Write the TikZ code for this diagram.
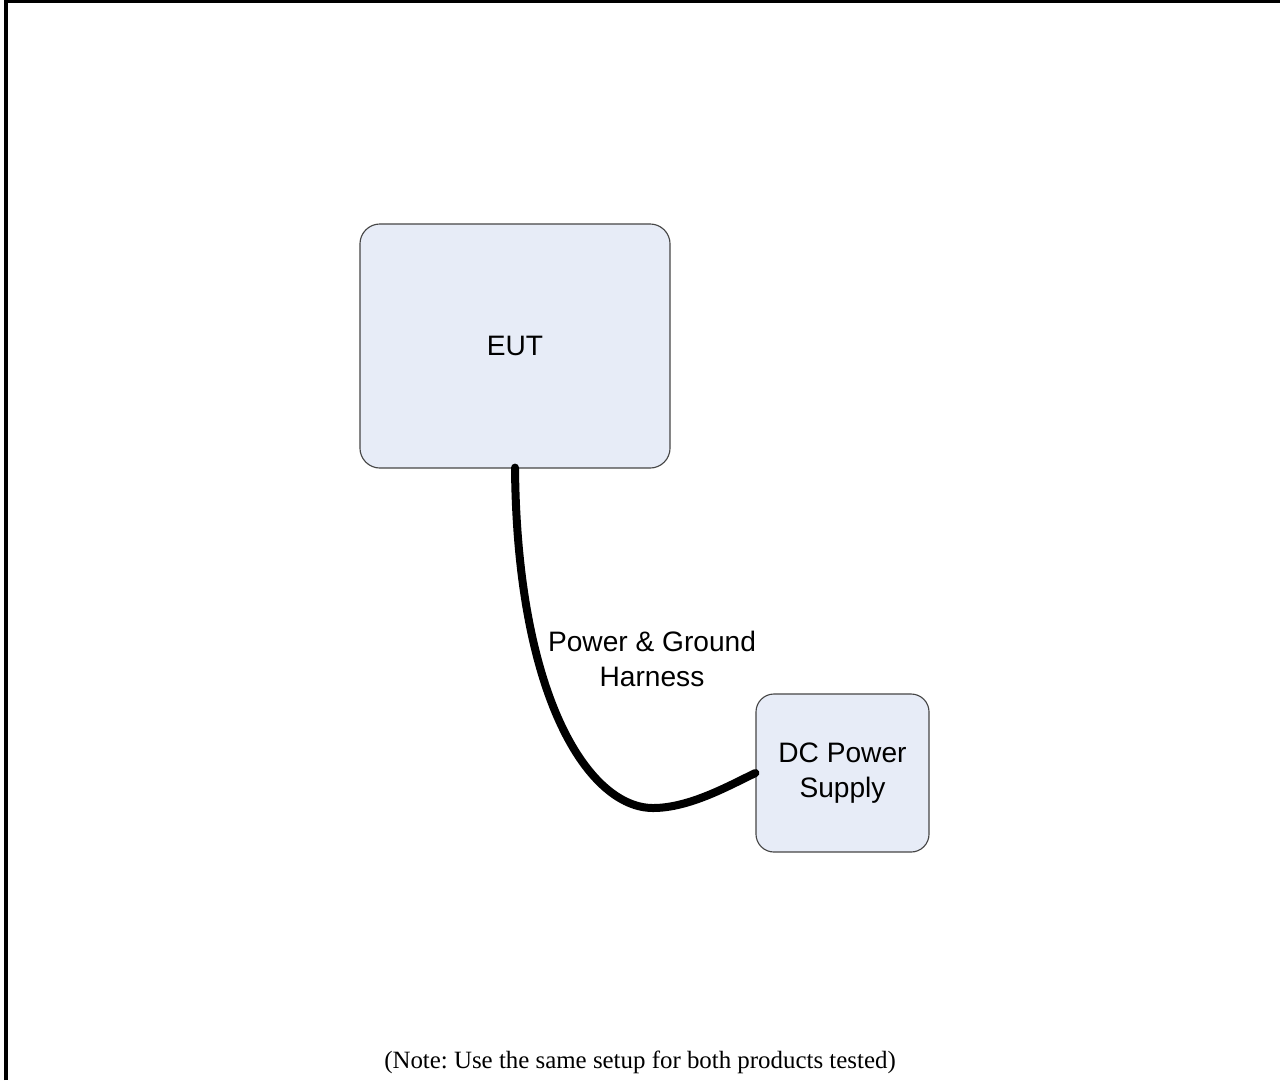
\documentclass[tikz,border=0pt]{standalone}
\usepackage{fontspec}
\setmainfont{Liberation Serif}
\newfontfamily\arialfont{Liberation Sans}
\usepackage{xcolor}
\usepackage{tikz}
\usetikzlibrary{shapes.geometric, arrows, positioning}
\definecolor{boxfill}{RGB}{231,236,247}
\definecolor{boxline}{RGB}{70,70,70}
\tikzstyle{unit} = [rectangle, rounded corners=0.5cm, text centered, align=center, draw=boxline, line width=0.8pt, fill=boxfill, font=\arialfont\fontsize{20}{25}\selectfont]
\tikzstyle{harness} = [line width=0.2cm, line cap=round, draw=black]
\tikzstyle{label} = [align=center, inner sep=0pt, font=\arialfont\fontsize{20}{24.5}\selectfont]
\frenchspacing

\begin{document}
\begin{tikzpicture}[x=0.025cm, y=-0.025cm]
		\useasboundingbox (0,0) rectangle (1280,1080);
		\draw[line width=0.075cm] (6,1080) -- (6,1.5) -- (1280,1.5);
		\node (eut) [unit, minimum width=7.75cm, minimum height=6.1cm] at (515,346) {EUT};
		\node (dc) [unit, minimum width=4.325cm, minimum height=3.95cm, rounded corners=0.45cm] at (842.5,773) {DC Power\\Supply};
		\node (harnesslabel) [label] at (652,659) {Power \& Ground\\Harness};
		\draw[harness] ([yshift=0.025cm]eut.south) .. controls (517,700) and (590,808) .. (653,808) .. controls (690,808) and (730,785) .. (dc.west);
		\node (note) [anchor=base, font=\fontsize{17.7}{21}\selectfont] at (640,1068) {(Note: Use the same setup for both products tested)};
	\end{tikzpicture}
\end{document}
